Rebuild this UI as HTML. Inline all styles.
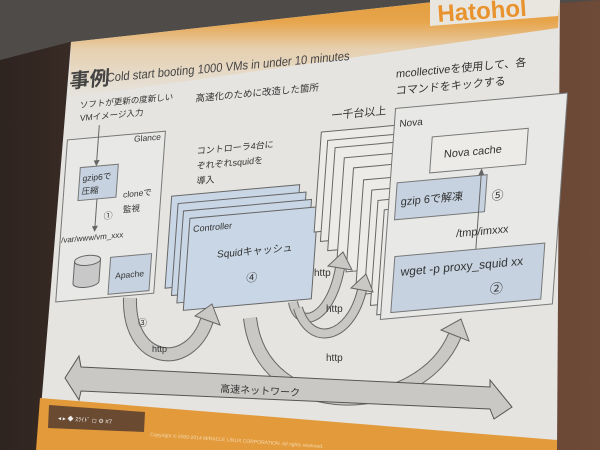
<!DOCTYPE html>
<html><head><meta charset="utf-8"><style>
html,body{margin:0;padding:0;background:#3b2a22;}
svg{display:block}
text{font-family:"Liberation Sans","Noto Sans CJK JP",sans-serif;fill:#333}
</style></head><body>
<svg width="600" height="450" viewBox="0 0 600 450" xmlns="http://www.w3.org/2000/svg">
<defs>
<linearGradient id="hd" x1="0" y1="0" x2="0" y2="1">
<stop offset="0" stop-color="#e39a3a"/><stop offset="0.3" stop-color="#e7a44a"/><stop offset="0.55" stop-color="#e6cfae"/><stop offset="1" stop-color="#e6e4e0"/>
</linearGradient>
<linearGradient id="bg" x1="0" y1="0" x2="1" y2="0">
<stop offset="0" stop-color="#2e2420"/><stop offset="0.5" stop-color="#5a3d30"/><stop offset="1" stop-color="#6e4a38"/>
</linearGradient>
</defs>
<rect width="600" height="450" fill="url(#bg)"/>
<polygon points="0,0 600,0 600,0 70,42 0,60" fill="#4e4b49"/>
<polygon points="71,42 560,-12 557,450 40,420" fill="#e5e4e1"/>
<polygon points="71,42 560,-12 558,28 69,98" fill="url(#hd)"/>
<polygon points="430,0 560,0 558,16 430,26" fill="#e9e6e0"/>
<text x="438" y="22" font-size="24" font-weight="bold" style="fill:#e8932e" transform="rotate(-4 438 22)">Hatohol</text>
<polygon points="40,398 557,440 557,450 36,450" fill="#e39a3a"/>
<polygon points="49,405 145,412 144,432 48,428" fill="#6a4a30"/>
<text x="150" y="436" font-size="5" style="fill:#f3d9b0" transform="rotate(4 150 436)">Copyright © 2000-2014 MIRACLE LINUX CORPORATION. All rights reserved.</text>
<text x="58" y="420" font-size="6" style="fill:#eee" transform="rotate(4 58 420)">◂ ▸ ◆ ｽﾗｲﾄﾞ ◻ ⚙ #7</text>

<g transform="matrix(1,-0.09,-0.072,1,0,0)">
<text x="76" y="95" font-size="20" font-weight="bold" style="fill:#444">事例</text>
<text x="113" y="92" font-size="12.5" textLength="243" lengthAdjust="spacingAndGlyphs" style="fill:#444">Cold start booting 1000 VMs in under 10 minutes</text>
<text x="204" y="120" font-size="9.5">高速化のために改造した箇所</text>
<text x="404" y="114" font-size="11">mcollectiveを使用して、各</text>
<text x="405" y="131" font-size="11">コマンドをキックする</text>
<text x="88" y="116" font-size="8.5">ソフトが更新の度新しい</text>
<text x="89" y="129" font-size="8.5">VMイメージ入力</text>

<rect x="78" y="147" width="98" height="162" fill="#e8e8e6" stroke="#777" stroke-width="1"/>
<text x="145" y="155" font-size="8.5">Glance</text>
<line x1="109" y1="135" x2="109" y2="172" stroke="#666"/>
<polygon points="106,170 112,170 109,176" fill="#666"/>
<rect x="93" y="176" width="38" height="33" fill="#c6d2e0" stroke="#777"/>
<text x="96" y="190" font-size="8.5">gzip6で</text>
<text x="96" y="203" font-size="8.5">圧縮</text>
<line x1="112" y1="209" x2="112" y2="238" stroke="#666"/>
<polygon points="109,236 115,236 112,242" fill="#666"/>
<text x="120" y="230" font-size="9">①</text>
<text x="138" y="210" font-size="8.5">cloneで</text>
<text x="139" y="225" font-size="8.5">監視</text>
<text x="79" y="250" font-size="8">/var/www/vm_xxx</text>
<path d="M94,270 v22 a13,5 0 0 0 26,0 v-22" fill="#c8c8c8" stroke="#666"/>
<ellipse cx="107" cy="270" rx="13" ry="5" fill="#d8d8d8" stroke="#666"/>
<rect x="130" y="269" width="41" height="37" fill="#c6d2e0" stroke="#777"/>
<text x="136" y="291" font-size="8.5">Apache</text>

<text x="209" y="173" font-size="9">コントローラ4台に</text>
<text x="210" y="188" font-size="9">ぞれぞれsquidを</text>
<text x="211" y="203" font-size="9">導入</text>
<rect x="187" y="213" width="128" height="92" fill="#c9d6e5" stroke="#666"/>
<rect x="194" y="221" width="128" height="92" fill="#c9d6e5" stroke="#666"/>
<rect x="200" y="229" width="128" height="92" fill="#c9d6e5" stroke="#666"/>
<rect x="207" y="237" width="128" height="92" fill="#c9d6e5" stroke="#666"/>
<text x="211" y="251" font-size="9">Controller</text>
<text x="237" y="279" font-size="10">Squidキャッシュ</text>
<text x="268" y="306" font-size="11">④</text>

<text x="342" y="150" font-size="11">一千台以上</text>
<g fill="#ecebe8" stroke="#666" stroke-width="1">
<rect x="333" y="162" width="100" height="100"/>
<rect x="340" y="171" width="100" height="101"/>
<rect x="348" y="179" width="100" height="103"/>
<rect x="358" y="190" width="100" height="103"/>
<rect x="368" y="201" width="100" height="104"/>
<rect x="379" y="214" width="100" height="103"/>
<rect x="388" y="225" width="100" height="104"/>
<rect x="395" y="236" width="100" height="105"/>
<rect x="402" y="246" width="100" height="105"/>
</g>

<rect x="406" y="145" width="172" height="211" fill="#e8e8e6" stroke="#777"/>
<text x="411" y="164" font-size="10">Nova</text>
<rect x="445" y="177" width="96" height="36" fill="#ecebe8" stroke="#777"/>
<text x="458" y="199" font-size="11">Nova cache</text>
<rect x="413" y="220" width="90" height="37" fill="#c6d2e0" stroke="#777"/>
<text x="418" y="243" font-size="11">gzip 6で解凍</text>
<text x="509" y="246" font-size="12">⑤</text>
<line x1="497" y1="294" x2="497" y2="218" stroke="#666"/>
<polygon points="494,220 500,220 497,213" fill="#666"/>
<text x="476" y="280" font-size="11">/tmp/imxxx</text>
<rect x="416" y="294" width="150" height="56" fill="#c6d2e0" stroke="#777"/>
<text x="423" y="314" font-size="12">wget -p proxy_squid xx</text>
<text x="514" y="340" font-size="13">②</text>
</g>

<g fill="none" stroke-linecap="butt">
<path d="M130,298 C128,365 190,372 207,320" stroke="#666" stroke-width="14"/>
<path d="M130,298 C128,365 190,372 207,320" stroke="#c9c8c5" stroke-width="12"/>
<path d="M250,318 C262,425 420,420 455,335" stroke="#666" stroke-width="14"/>
<path d="M250,318 C262,425 420,420 455,335" stroke="#c9c8c5" stroke-width="12"/>
<path d="M293,302 C298,330 330,322 340,268" stroke="#666" stroke-width="10"/>
<path d="M293,302 C298,330 330,322 340,268" stroke="#c9c8c5" stroke-width="8"/>
<path d="M298,308 C310,348 350,340 362,290" stroke="#666" stroke-width="10"/>
<path d="M298,308 C310,348 350,340 362,290" stroke="#c9c8c5" stroke-width="8"/>
</g>
<g fill="#c9c8c5" stroke="#666" stroke-width="1">
<polygon points="212,304 220,325 195,316"/>
<polygon points="461,319 469,341 441,330"/>
<polygon points="343,252 352,270 328,266"/>
<polygon points="366,274 373,292 351,288"/>
</g>
<text x="138" y="326" font-size="9">③</text>
<text x="152" y="352" font-size="9">http</text>
<text x="326" y="361" font-size="10">http</text>
<text x="314" y="276" font-size="10">http</text>
<text x="326" y="312" font-size="10">http</text>

<polygon points="65,378 79,356 81,367 490,387 490,380 512,407 494,419 490,409 81,391 79,400" fill="#c9c8c5" stroke="#555" stroke-width="1"/>
<text x="220" y="392" font-size="10" transform="rotate(3 220 392)">高速ネットワーク</text>
</svg>
</body></html>
